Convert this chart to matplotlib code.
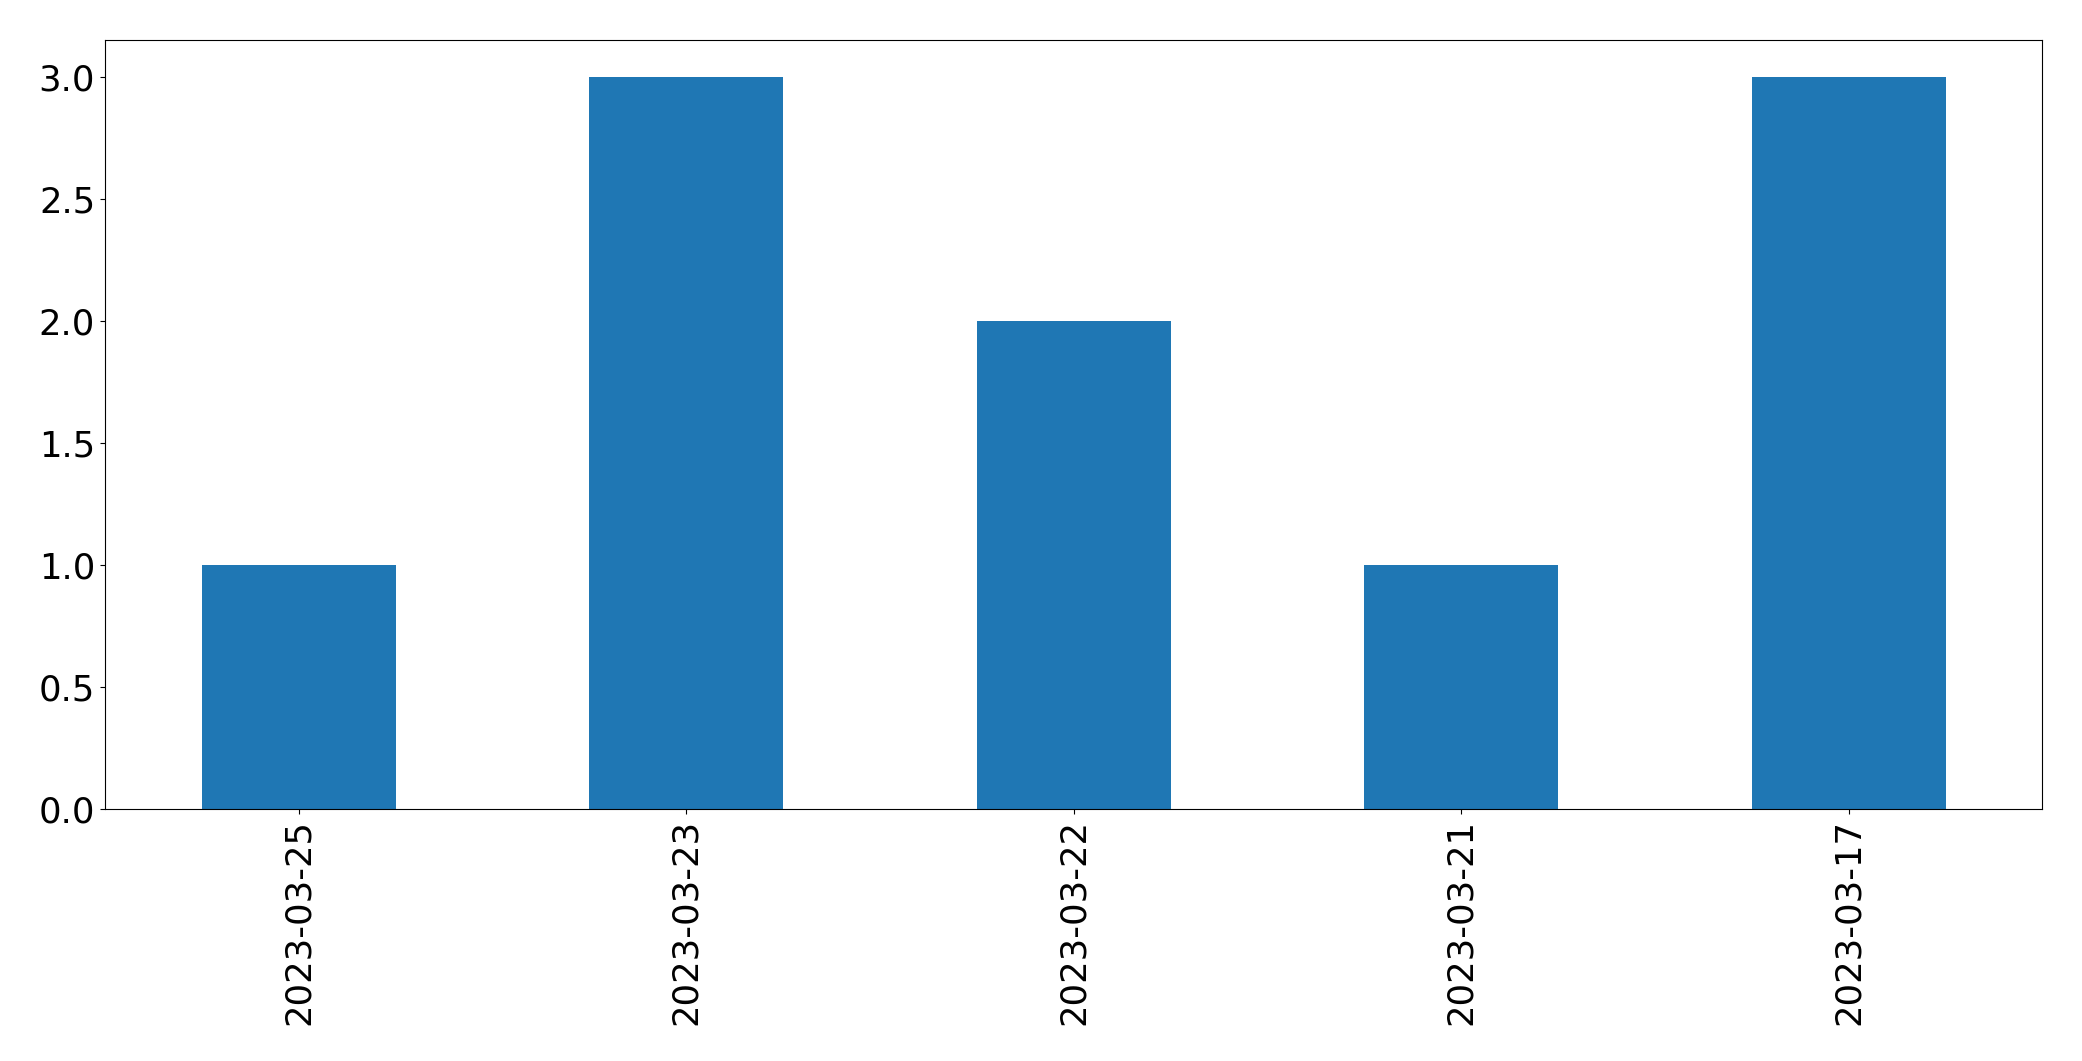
import matplotlib
matplotlib.use("Agg")
import matplotlib.pyplot as plt
import pandas as pd

# data
dates = ["2023-03-25", "2023-03-23", "2023-03-22", "2023-03-21", "2023-03-17"]
counts = [1, 3, 2, 1, 3]

s = pd.Series(counts, index=dates)

fig = plt.figure(figsize=(20.82, 10.61), dpi=100)
ax = fig.add_axes([0.0504, 0.2375, 0.9306, 0.7245])
s.plot(kind="bar", ax=ax, color="#1f77b4", width=0.5)
ax.tick_params(axis="both", labelsize=25.5)
ax.set_ylim(0, 3.15)

fig.savefig("out.png", dpi=100)
